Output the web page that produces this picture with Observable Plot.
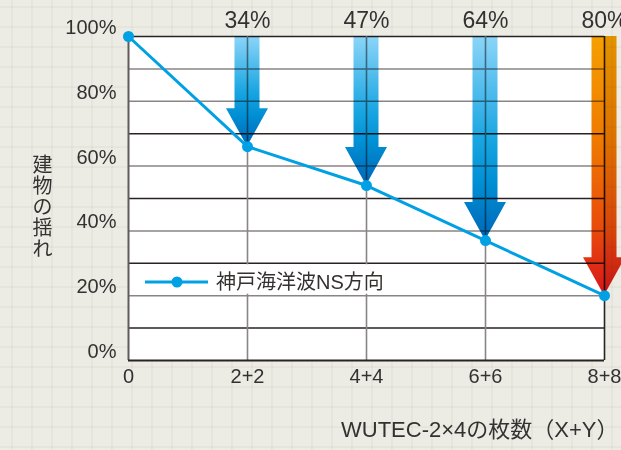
<!DOCTYPE html>
<html><head><meta charset="utf-8">
<script src="https://cdn.jsdelivr.net/npm/d3@7"></script>
<script src="https://cdn.jsdelivr.net/npm/@observablehq/plot@0.6"></script>
<style>
html,body{margin:0;padding:0;}
body{width:621px;height:450px;overflow:hidden;background-color:#ecebe4;
background-image:linear-gradient(to right, rgba(120,110,80,0.05) 2px, transparent 2px), linear-gradient(to bottom, rgba(120,110,80,0.05) 2px, transparent 2px);
background-size:20px 20px;background-position:11px 6px;}
#chart svg{display:block;}
</style></head><body><div id="chart"></div>
<script>
// ---- data ----
const categories = ["0", "2+2", "4+4", "6+6", "8+8"];
const sway = [100, 66, 54, 37, 20];
const arrowCats = ["2+2", "4+4", "6+6", "8+8"];
const arrowTips = [66, 54, 37, 20];
const reductionLabels = ["34%", "47%", "64%", "80%"];
const arrowKinds = ["blue", "blue", "blue", "red"];
const yTicks = [0, 20, 40, 60, 80, 100];
const gridDark = [10, 30, 50, 70, 100];
const gridGray = [20, 40, 60, 80, 90];
const seriesName = "神戸海洋波NS方向";
const xTitle = "WUTEC-2×4の枚数（X+Y）";
const yTitle = "建物の揺れ";

const points = categories.map((c, i) => ({cat: c, v: sway[i]}));
const arrows = arrowCats.map((c, i) => ({cat: c, tip: arrowTips[i], label: reductionLabels[i], kind: arrowKinds[i]}));

const FONT = "'Liberation Sans', 'Noto Sans CJK JP', sans-serif";
const TEXT = "#353131";
const LINE = "#00a0e4";

function arrowMark(index, scales) {
  const {x, y} = scales;
  const g = d3.create("svg:g");
  const defs = g.append("defs");
  const gb = defs.append("linearGradient").attr("id", "gBlue").attr("x1", 0).attr("y1", 0).attr("x2", 0).attr("y2", 1);
  [[0, "#8cd5f8"], [0.5, "#1aa6e2"], [0.72, "#008fd4"], [1, "#0066b6"]].forEach(([o, c]) => gb.append("stop").attr("offset", o).attr("stop-color", c));
  const gr = defs.append("linearGradient").attr("id", "gRed").attr("x1", 0).attr("y1", 0).attr("x2", 0).attr("y2", 1);
  [[0, "#f5a000"], [0.4, "#ef7a00"], [0.75, "#e84a0c"], [1, "#d8141a"]].forEach(([o, c]) => gr.append("stop").attr("offset", o).attr("stop-color", c));
  const sh = 12.5, hh = 21, hl = 38;
  for (const a of arrows) {
    const cx = x(a.cat), yt = y(100), yp = y(a.tip), yb = yp - hl;
    const pts = [[cx - sh, yt], [cx + sh, yt], [cx + sh, yb], [cx + hh, yb], [cx, yp], [cx - hh, yb], [cx - sh, yb]];
    g.append("path").attr("d", "M" + pts.map(p => p.join(",")).join("L") + "Z")
      .attr("fill", a.kind === "red" ? "url(#gRed)" : "url(#gBlue)")
      .style("mix-blend-mode", "multiply");
  }
  return g.node();
}

function legendMark(index, scales) {
  const {x, y} = scales;
  const g = d3.create("svg:g");
  const x0 = x(categories[0]);
  const top = y(30), bot = y(20);
  const ly = (top + bot) / 2 + 3;
  g.append("rect").attr("x", x0 + 2).attr("y", top + 1.5).attr("width", 270).attr("height", bot - top - 3).attr("fill", "white");
  g.append("line").attr("x1", x0 + 17).attr("x2", x0 + 80).attr("y1", ly).attr("y2", ly).attr("stroke", LINE).attr("stroke-width", 3);
  g.append("circle").attr("cx", x0 + 49).attr("cy", ly).attr("r", 5.5).attr("fill", LINE);
  g.append("text").attr("x", x0 + 88).attr("y", ly).attr("dy", "0.36em").attr("text-anchor", "start")
    .attr("font-size", 20).attr("fill", TEXT).attr("font-family", FONT).text(seriesName);
  return g.node();
}

const chart = Plot.plot({
  width: 621,
  height: 450,
  marginLeft: 128,
  marginRight: 17,
  marginTop: 36,
  marginBottom: 90,
  style: {background: "transparent", fontFamily: FONT, color: TEXT, overflow: "visible"},
  x: {type: "point", domain: categories, padding: 0, label: null},
  y: {domain: [0, 100], label: null},
  marks: [
    Plot.frame({fill: "white", stroke: null}),
    Plot.ruleY(gridGray, {stroke: "#8a8585", strokeWidth: 1.5}),
    Plot.ruleY(gridDark, {stroke: "#2a2323", strokeWidth: 1.5}),
    Plot.ruleX(categories.slice(1, 4), {stroke: "#8a8585", strokeWidth: 1.6}),
    Plot.ruleX([categories[0]], {stroke: "#615b5b", strokeWidth: 2}),
    Plot.ruleX([categories[4]], {stroke: "#2a2323", strokeWidth: 1.6}),
    Plot.ruleY([0], {stroke: "#2a2323", strokeWidth: 2}),
    arrowMark,
    legendMark,
    Plot.line(points, {x: "cat", y: "v", stroke: LINE, strokeWidth: 3}),
    Plot.dot(points, {x: "cat", y: "v", r: 5.5, fill: LINE}),
    Plot.axisY({ticks: yTicks, tickSize: 0, tickPadding: 12, tickFormat: d => d + "%", fontSize: 20, dy: -9, fill: TEXT, label: null}),
    Plot.axisX({tickSize: 0, tickPadding: 8, fontSize: 20, fill: TEXT, label: null}),
    Plot.text(arrows, {x: "cat", y: () => 100, text: "label", fontSize: 23, dy: -16, fill: TEXT}),
    Plot.text([xTitle], {frameAnchor: "bottom-right", textAnchor: "end", dx: 14, dy: 76, fontSize: 22, fill: TEXT}),
    Plot.text([yTitle.split("").join("\n")], {frameAnchor: "left", textAnchor: "middle", dx: -86, dy: 9, fontSize: 20, lineHeight: 1.05, fill: TEXT})
  ]
});
document.getElementById("chart").appendChild(chart);
</script>
</body></html>
